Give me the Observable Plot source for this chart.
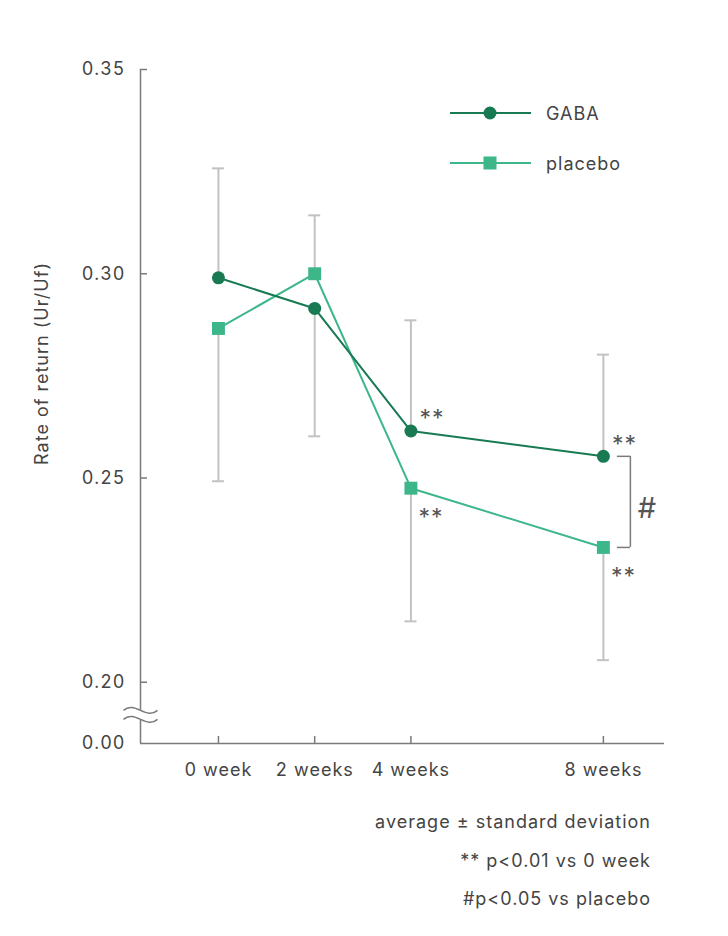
<!DOCTYPE html>
<html>
<head>
<meta charset="utf-8">
<script src="https://cdn.jsdelivr.net/npm/d3@7"></script>
<script src="https://cdn.jsdelivr.net/npm/@observablehq/plot@0.6"></script>
<style>
  html, body { margin: 0; padding: 0; background: #fff; }
  #wrap { position: relative; width: 728px; height: 936px; font-family: Inter, "Noto Sans", sans-serif; color: #444; letter-spacing: 1px; }
  #chart svg text { letter-spacing: 1px; }
  #legend { position: absolute; left: 450px; top: 98px; font-size: 18px; }
  .lg { display: flex; align-items: center; height: 30px; margin-bottom: 20px; }
  .lg svg { margin-right: 15px; }
  #footer { position: absolute; right: 77px; top: 803px; text-align: right; font-size: 18px; line-height: 38.5px; }
</style>
</head>
<body>
<div id="wrap">
  <div id="chart"></div>
  <div id="legend"></div>
  <div id="footer"></div>
</div>
<script>
const weeks = [0, 2, 4, 8];
const weekLabels = ["0 week", "2 weeks", "4 weeks", "8 weeks"];
const gaba = [0.299, 0.2915, 0.2615, 0.2553];
const placebo = [0.2866, 0.300, 0.2475, 0.233];
const gabaSD = [0.0268, 0.0313, 0.0271, 0.0249];
const gabaSDDir = [1, -1, 1, 1];
const placeboSD = [0.0374, 0.0143, 0.0326, 0.0276];
const placeboSDDir = [-1, 1, -1, -1];
const gabaSig = ["", "", "**", "**"];
const placeboSig = ["", "", "**", "**"];
const yTicks = [0.20, 0.25, 0.30, 0.35];
const yBottom = 0.185;      // axis break: shown as 0.00
const yBreakMark = 0.192;
const seriesNames = ["GABA", "placebo"];
const footnotes = ["average ± standard deviation", "** p<0.01 vs 0 week", "#p<0.05 vs placebo"];
const yLabel = "Rate of return (Ur/Uf)";

const gabaColor = "#177a52";
const placeboColor = "#3db68a";
const barColor = "#c2c2c2";
const axisColor = "#7a7a7a";
const textColor = "#444";

const xMin = -1.62, xMax = 9.27;

const gabaRows = weeks.map((w, i) => ({week: w, value: gaba[i], end: gaba[i] + gabaSDDir[i] * gabaSD[i], sig: gabaSig[i]}));
const placeboRows = weeks.map((w, i) => ({week: w, value: placebo[i], end: placebo[i] + placeboSDDir[i] * placeboSD[i], sig: placeboSig[i]}));
const allRows = gabaRows.concat(placeboRows);
const last = weeks.length - 1;

// axis-break symbols (two waves); r = half-width in px
function wave(ctx, r, y0, reverse) {
  const A = 10;
  if (!reverse) {
    ctx.bezierCurveTo(-r / 3, y0 - A, r / 3, y0 + A, r, y0);
  } else {
    ctx.bezierCurveTo(r / 3, y0 + A, -r / 3, y0 - A, -r, y0);
  }
}
const gap = 4.5;
const breakFill = {
  draw(ctx, size) {
    const r = Math.sqrt(size / Math.PI);
    ctx.moveTo(-r, -gap);
    wave(ctx, r, -gap, false);
    ctx.lineTo(r, gap);
    wave(ctx, r, gap, true);
    ctx.closePath();
  }
};
const breakStroke = {
  draw(ctx, size) {
    const r = Math.sqrt(size / Math.PI);
    ctx.moveTo(-r, -gap);
    wave(ctx, r, -gap, false);
    ctx.moveTo(-r, gap);
    wave(ctx, r, gap, false);
  }
};

const chart = Plot.plot({
  width: 728,
  height: 800,
  marginLeft: 140,
  marginRight: 64,
  marginTop: 69,
  marginBottom: 57,
  x: {domain: [xMin, xMax]},
  y: {domain: [yBottom, 0.35]},
  style: {fontFamily: "Inter, 'Noto Sans', sans-serif", fontSize: "18px", color: textColor, background: "white"},
  marks: [
    // axes lines
    Plot.ruleX([xMin], {y1: yBottom, y2: 0.35, stroke: axisColor, strokeWidth: 1.5}),
    Plot.ruleY([yBottom], {x1: xMin, x2: xMax, stroke: axisColor, strokeWidth: 1.5}),
    // y ticks (inward)
    Plot.ruleY(yTicks, {x1: xMin, x2: xMin, insetRight: -7, stroke: axisColor, strokeWidth: 1.5}),
    // x ticks (inward)
    Plot.ruleX(weeks, {y1: yBottom, y2: yBottom, insetBottom: 7, stroke: axisColor, strokeWidth: 1.5}),
    // axis labels
    Plot.axisY([...yTicks, yBottom], {tickSize: 0, tickPadding: 15, label: null, fontSize: 18,
      tickFormat: d => d === yBottom ? "0.00" : d.toFixed(2)}),
    Plot.axisX(weeks, {tickSize: 0, tickPadding: 20, label: null, fontSize: 18,
      tickFormat: d => weekLabels[weeks.indexOf(d)]}),
    // axis break
    Plot.dot([yBreakMark], {x: () => xMin, y: d => d, symbol: breakFill, r: 17, fill: "white", stroke: "white", strokeWidth: 1}),
    Plot.dot([yBreakMark], {x: () => xMin, y: d => d, symbol: breakStroke, r: 17, fill: "none", stroke: axisColor, strokeWidth: 1.5}),
    // y label
    Plot.text([yLabel], {frameAnchor: "left", textAnchor: "middle", rotate: -90, dx: -98, dy: -43, fontSize: 18, fill: textColor}),
    // error bars
    Plot.ruleX(allRows, {x: "week", y1: "value", y2: "end", stroke: barColor, strokeWidth: 2}),
    Plot.ruleY(allRows, {x1: "week", x2: "week", y: "end", insetLeft: -6, insetRight: -6, stroke: barColor, strokeWidth: 2}),
    // lines
    Plot.line(placeboRows, {x: "week", y: "value", stroke: placeboColor, strokeWidth: 2}),
    Plot.line(gabaRows, {x: "week", y: "value", stroke: gabaColor, strokeWidth: 2}),
    Plot.dot(placeboRows, {x: "week", y: "value", symbol: "square", r: 7.3, fill: placeboColor}),
    Plot.dot(gabaRows, {x: "week", y: "value", symbol: "circle", r: 6.5, fill: gabaColor}),
    // significance
    Plot.text(gabaRows.filter(d => d.sig), {x: "week", y: "value", text: "sig", dx: 21, dy: -12, fontSize: 23, fill: "#555"}),
    Plot.text(placeboRows.filter(d => d.sig), {x: "week", y: "value", text: "sig", dx: 20, dy: 29, fontSize: 23, fill: "#555"}),
    // bracket
    Plot.ruleY([gaba[last], placebo[last]], {x1: () => weeks[last], x2: () => weeks[last], insetLeft: 14, insetRight: -27, stroke: axisColor, strokeWidth: 1.5}),
    Plot.ruleX([weeks[last]], {y1: () => gaba[last], y2: () => placebo[last], dx: 27, stroke: axisColor, strokeWidth: 1.5}),
    Plot.text(["#"], {x: () => weeks[last], y: () => (gaba[last] + placebo[last]) / 2, dx: 44, dy: 7, fontSize: 29, fill: "#555"})
  ]
});
document.getElementById("chart").appendChild(chart);

// legend
const legend = document.getElementById("legend");
const colors = [gabaColor, placeboColor];
seriesNames.forEach((name, i) => {
  const row = document.createElement("div");
  row.className = "lg";
  const sym = i === 0
    ? `<circle cx="40" cy="15" r="6.5" fill="${colors[i]}"/>`
    : `<rect x="33.5" y="8.5" width="13" height="13" fill="${colors[i]}"/>`;
  row.innerHTML = `<svg width="81" height="30"><line x1="0" x2="81" y1="15" y2="15" stroke="${colors[i]}" stroke-width="2"/>${sym}</svg><span>${name}</span>`;
  legend.appendChild(row);
});

// footer
const footer = document.getElementById("footer");
footnotes.forEach(t => {
  const d = document.createElement("div");
  d.textContent = t;
  footer.appendChild(d);
});
</script>
</body>
</html>
